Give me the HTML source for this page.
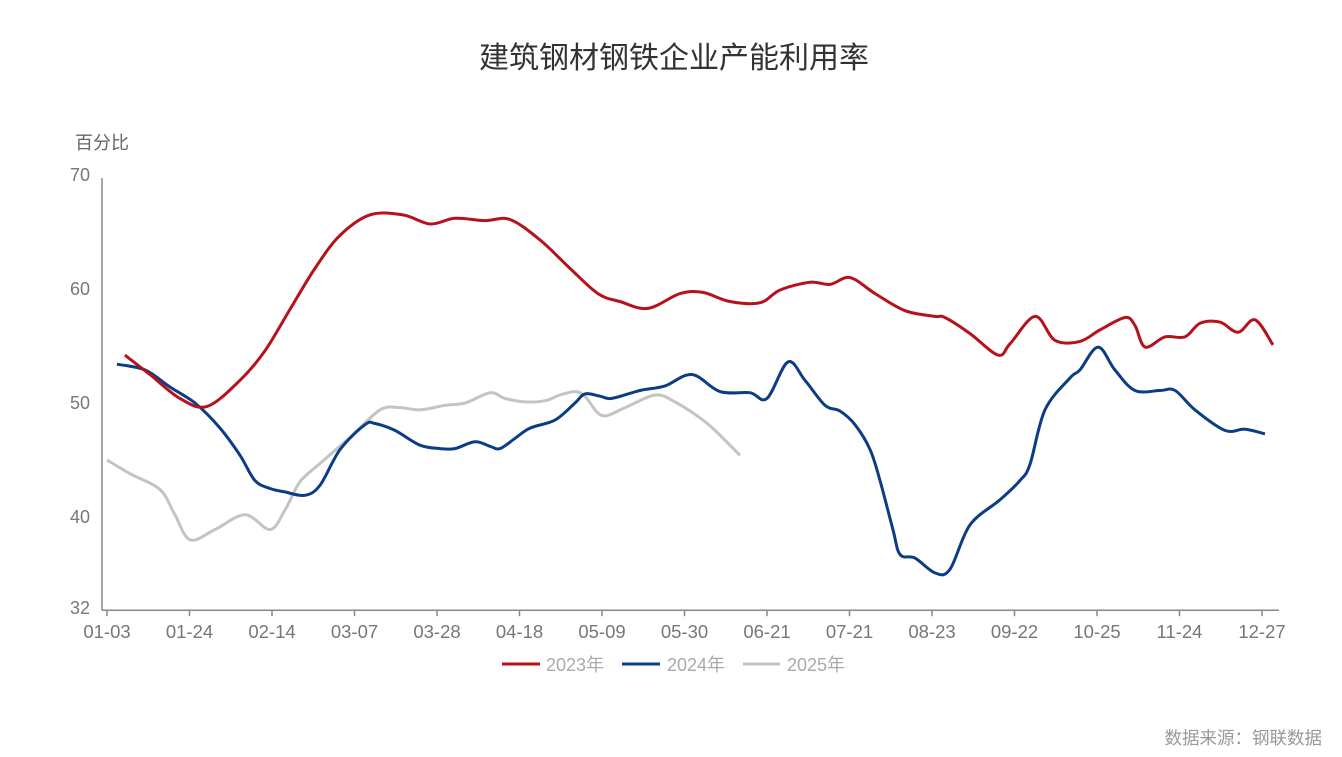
<!DOCTYPE html>
<html><head><meta charset="utf-8"><style>
body{margin:0;background:#fff;}
svg text{font-family:"Liberation Sans","Noto Sans CJK SC",sans-serif;}
</style></head><body>
<svg id="chart" width="1342" height="752" xmlns="http://www.w3.org/2000/svg">
<text x="674" y="68" font-size="30" fill="#333" text-anchor="middle">建筑钢材钢铁企业产能利用率</text>
<text x="75" y="149" font-size="18" fill="#666">百分比</text>
<g id="axes"></g>
<g id="series"></g>
<g>
<g><line x1="502" y1="664" x2="540" y2="664" stroke="#b5121b" stroke-width="3"/><text x="546" y="671" font-size="18" fill="#aaa">2023年</text></g>
<g><line x1="622" y1="664" x2="660" y2="664" stroke="#0b3d85" stroke-width="3"/><text x="667" y="671" font-size="18" fill="#aaa">2024年</text></g>
<g><line x1="743" y1="664" x2="780" y2="664" stroke="#c4c4c4" stroke-width="3"/><text x="787" y="671" font-size="18" fill="#aaa">2025年</text></g>
</g>
<text x="1322" y="744" font-size="17.5" fill="#999" text-anchor="end">数据来源：钢联数据</text>
</svg>
<script>
const xLabels=["01-03","01-24","02-14","03-07","03-28","04-18","05-09","05-30","06-21","07-21","08-23","09-22","10-25","11-24","12-27"];
const yTicks=[32,40,50,60,70];
const x2023=[0.65,1.56,2.65,3.64,4.84,5.75,6.65,7.56,8.47,9.56,10.76,11.75,12.65,13.75,14.65,15.75,16.84,17.85,18.65,19.67,20.84,21.67,22.65,23.75,24.47,25.56,26.29,27.02,27.93,29.02,30.1,30.47,31.38,32.4,32.84,33.75,34.47,35.38,36.1,37.02,37.38,37.75,38.47,39.2,39.75,40.47,41.13,41.75,42.4];
const v2023=[54.2,52.5,50.4,49.7,52.0,54.6,58.2,61.8,64.7,66.5,66.5,65.7,66.2,66.0,66.1,64.3,61.8,59.6,58.9,58.3,59.6,59.7,58.9,58.8,59.9,60.6,60.4,61.0,59.6,58.1,57.6,57.5,56.1,54.2,55.2,57.6,55.5,55.4,56.4,57.5,56.8,54.9,55.8,55.8,57.0,57.1,56.2,57.3,55.1];
const x2024=[0.36,1.38,2.29,3.2,4.11,4.84,5.38,5.93,6.47,7.2,7.75,8.47,9.38,9.75,10.47,11.38,12.11,12.65,13.38,13.93,14.29,14.84,15.38,16.29,17.02,17.38,17.93,18.36,19.38,20.29,21.27,22.29,23.38,24.0,24.76,25.38,26.11,26.65,27.2,27.75,28.11,28.58,28.84,29.38,30.11,30.65,31.38,32.47,33.2,33.56,34.11,35.02,35.38,36.04,36.65,37.38,38.29,38.84,39.56,40.65,41.38,42.11];
const v2024=[53.4,52.9,51.4,50.0,47.8,45.4,43.2,42.5,42.2,41.9,42.8,45.9,48.1,48.2,47.6,46.3,46.0,46.0,46.6,46.2,46.0,46.9,47.8,48.5,50.0,50.8,50.6,50.4,51.1,51.5,52.5,51.0,50.9,50.4,53.6,52.0,49.8,49.3,48.1,45.9,43.2,38.9,36.7,36.4,35.1,35.4,39.3,41.5,43.2,44.6,49.4,52.2,52.9,54.9,52.9,51.1,51.1,51.1,49.4,47.6,47.7,47.3];
const x2025=[0,0.84,1.93,2.47,3.02,3.93,5.02,5.93,6.47,7.02,7.75,8.84,9.93,10.65,11.38,12.29,13.02,13.93,14.47,15.2,15.93,16.47,17.02,17.38,18.0,18.84,19.93,20.65,21.56,22.11,23.02];
const v2025=[45.0,43.8,42.4,40.2,38.0,38.9,40.2,38.9,40.6,43.1,44.7,47.0,49.4,49.6,49.4,49.8,50.0,50.9,50.4,50.1,50.2,50.7,51.0,50.6,48.9,49.6,50.7,50.1,48.7,47.6,45.4];

const NS="http://www.w3.org/2000/svg";
const X=i=>107+i*27.5;
const Y=v=>175+(70-v)*11.4;
const axes=document.getElementById('axes');
function mk(tag,attrs,parent){const e=document.createElementNS(NS,tag);for(const k in attrs)e.setAttribute(k,attrs[k]);parent.appendChild(e);return e;}
const ya=mk('line',{x1:102,y1:Y(70)+3,x2:102,y2:Y(32)+2,stroke:'#888','stroke-width':1.5},axes);


const xa=mk('line',{x1:102,y1:Y(32)+2,x2:1279,y2:Y(32)+2,stroke:'#888','stroke-width':1.5},axes);


yTicks.forEach(t=>{
  const tx=mk('text',{x:90,y:Y(t)+6,'font-size':18,fill:'#777','text-anchor':'end'},axes);
  tx.textContent=t;
  
  
});
xLabels.forEach((l,k)=>{
  const x=X(k*3);
  const tk=mk('line',{x1:x,y1:Y(32)+2,x2:x,y2:Y(32)+8,stroke:'#888','stroke-width':1.5},axes);
  
  
  const tx=mk('text',{x:x,y:638,'font-size':18.5,fill:'#777','text-anchor':'middle'},axes);
  tx.textContent=l;
  
  
});
function smooth(xs,vs){
  const p=xs.map((x,i)=>[X(x),Y(vs[i])]);
  let d='M'+p[0][0].toFixed(1)+','+p[0][1].toFixed(1);
  for(let i=0;i<p.length-1;i++){
    const p0=p[i-1]||p[i],p1=p[i],p2=p[i+1],p3=p[i+2]||p2;
    const c1=[p1[0]+(p2[0]-p0[0])/6,p1[1]+(p2[1]-p0[1])/6];
    const c2=[p2[0]-(p3[0]-p1[0])/6,p2[1]-(p3[1]-p1[1])/6];
    d+=`C${c1[0].toFixed(1)},${c1[1].toFixed(1)} ${c2[0].toFixed(1)},${c2[1].toFixed(1)} ${p2[0].toFixed(1)},${p2[1].toFixed(1)}`;
  }
  return d;
}
const sg=document.getElementById('series');
const l25=mk('path',{d:smooth(x2025,v2025),fill:'none',stroke:'#c4c4c4','stroke-width':3},sg);


const l24=mk('path',{d:smooth(x2024,v2024),fill:'none',stroke:'#0b3d85','stroke-width':3},sg);


const l23=mk('path',{d:smooth(x2023,v2023),fill:'none',stroke:'#b5121b','stroke-width':3},sg);


</script>
</body></html>
